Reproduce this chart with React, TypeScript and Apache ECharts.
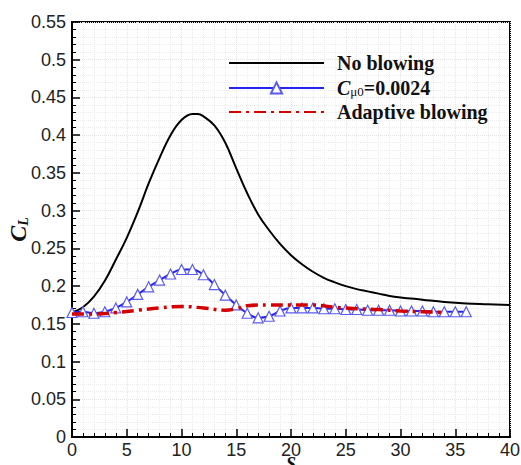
import React, { useEffect, useRef } from "react";
import * as echarts from "echarts";

const noBlowingX = [0, 1, 2, 3, 4, 5, 6, 7, 8, 9, 10, 11, 11.5, 12, 13, 14, 15, 16, 17, 18, 19, 20, 21, 22, 23, 24, 25, 26, 27, 28, 29, 30, 32, 34, 36, 38, 40];
const noBlowingY = [0.165, 0.172, 0.186, 0.207, 0.235, 0.264, 0.298, 0.336, 0.37, 0.4, 0.42, 0.428, 0.428, 0.425, 0.413, 0.39, 0.356, 0.323, 0.295, 0.274, 0.256, 0.241, 0.229, 0.219, 0.211, 0.205, 0.2, 0.196, 0.193, 0.19, 0.187, 0.185, 0.182, 0.179, 0.177, 0.176, 0.175];

const cmuX = [0, 1, 2, 3, 4, 5, 6, 7, 8, 9, 10, 11, 12, 13, 14, 15, 16, 17, 18, 19, 20, 21, 22, 23, 24, 25, 26, 27, 28, 29, 30, 31, 32, 33, 34, 35, 36];
const cmuY = [0.165, 0.166, 0.164, 0.166, 0.171, 0.179, 0.189, 0.199, 0.208, 0.216, 0.222, 0.222, 0.215, 0.202, 0.188, 0.175, 0.164, 0.158, 0.16, 0.167, 0.171, 0.171, 0.171, 0.17, 0.17, 0.169, 0.169, 0.168, 0.168, 0.168, 0.167, 0.167, 0.167, 0.166, 0.166, 0.166, 0.166];

const adaptiveX = [0, 2, 4, 6, 8, 10, 12, 14, 15, 16, 18, 20, 22, 24, 26, 28, 30, 32, 34];
const adaptiveY = [0.163, 0.163, 0.165, 0.168, 0.171, 0.173, 0.171, 0.168, 0.17, 0.174, 0.175, 0.175, 0.175, 0.172, 0.17, 0.169, 0.167, 0.166, 0.165];

const seriesNames = ["No blowing", "Cμ0=0.0024", "Adaptive blowing"];

const zip = (xs: number[], ys: number[]) => xs.map((x, i) => [x, ys[i]]);

export default function App() {
  const ref = useRef<HTMLDivElement>(null);
  useEffect(() => {
    if (!ref.current) return;
    const chart = echarts.init(ref.current, null, { renderer: "svg" });
    const serif = "Liberation Serif";
    const sans = "Liberation Sans";
    chart.setOption({
      animation: false,
      backgroundColor: "#ffffff",
      grid: {
        left: 72,
        right: 11,
        top: 22,
        bottom: 28,
        containLabel: false,
        outerBoundsMode: "none",
        show: true,
        borderColor: "#000",
        borderWidth: 2,
        backgroundColor: "transparent",
      },
      legend: {
        show: true,
        orient: "vertical",
        left: 223,
        top: 48,
        itemWidth: 95,
        itemHeight: 14,
        itemGap: 4,
        data: [
          { name: seriesNames[0], itemStyle: { opacity: 0 } },
          { name: seriesNames[1] },
          { name: seriesNames[2], itemStyle: { opacity: 0 } },
        ],
        formatter: (name: string) =>
          name === "Cμ0=0.0024" ? "{i|C}{s|μ0}{b|=0.0024}" : "{b|" + name + "}",
        textStyle: {
          padding: [0, 0, 0, 8],
          rich: {
            b: { fontFamily: serif, fontWeight: "bold", fontSize: 20, color: "#111", lineHeight: 20, verticalAlign: "middle" },
            i: { fontFamily: serif, fontWeight: "bold", fontStyle: "italic", fontSize: 20, color: "#111", lineHeight: 20, verticalAlign: "middle" },
            s: { fontFamily: serif, fontSize: 13, color: "#111", lineHeight: 14, verticalAlign: "bottom", padding: [8, 0, 0, 0] },
          },
        },
      },
      xAxis: {
        type: "value",
        min: 0,
        max: 40,
        interval: 5,
        name: "S",
        nameLocation: "middle",
        nameGap: 18,
        nameMoveOverlap: false,
        nameTextStyle: { fontFamily: serif, fontWeight: "bold", fontStyle: "italic", fontSize: 18, color: "#111" },
        axisLine: { show: true, onZero: false, lineStyle: { color: "#000", width: 2 } },
        axisTick: { show: true, inside: true, length: 8, lineStyle: { color: "#000", width: 1.5 } },
        minorTick: { show: true, splitNumber: 5, length: 4, lineStyle: { color: "#000", width: 1 } },
        axisLabel: { fontFamily: sans, fontSize: 18, color: "#222", margin: 4 },
        splitLine: { show: true, lineStyle: { color: "#e4e4e4", type: "dotted", width: 1 } },
        minorSplitLine: { show: true, lineStyle: { color: "#ececec", type: "dotted", width: 1 } },
      },
      yAxis: {
        type: "value",
        min: 0,
        max: 0.55,
        interval: 0.05,
        name: "{c|C}{l|L}",
        nameLocation: "middle",
        nameGap: 42,
        nameMoveOverlap: false,
        nameTextStyle: {
          rich: {
            c: { fontFamily: serif, fontWeight: "bold", fontStyle: "italic", fontSize: 24, color: "#111", lineHeight: 24 },
            l: { fontFamily: serif, fontWeight: "bold", fontStyle: "italic", fontSize: 14, color: "#111", lineHeight: 24, verticalAlign: "bottom", padding: [12, 0, 0, 0] },
          },
        },
        axisLine: { show: true, onZero: false, lineStyle: { color: "#000", width: 2 } },
        axisTick: { show: true, inside: true, length: 8, lineStyle: { color: "#000", width: 1.5 } },
        minorTick: { show: true, splitNumber: 5, length: 4, lineStyle: { color: "#000", width: 1 } },
        axisLabel: { fontFamily: sans, fontSize: 18, color: "#222", margin: 6 },
        splitLine: { show: true, lineStyle: { color: "#e4e4e4", type: "dotted", width: 1 } },
        minorSplitLine: { show: true, lineStyle: { color: "#ececec", type: "dotted", width: 1 } },
      },
      series: [
        {
          name: seriesNames[0],
          type: "line",
          data: zip(noBlowingX, noBlowingY),
          smooth: 0.4,
          showSymbol: false,
          symbol: "none",
          lineStyle: { color: "#000", width: 2 },
          itemStyle: { color: "#000" },
          z: 3,
        },
        {
          name: seriesNames[1],
          type: "line",
          data: zip(cmuX, cmuY),
          smooth: 0.4,
          symbol: "triangle",
          symbolSize: 10,
          showSymbol: true,
          lineStyle: { color: "#2424f2", width: 2 },
          itemStyle: { color: "#ffffff", borderColor: "#5a5aee", borderWidth: 1.2 },
          z: 4,
        },
        {
          name: seriesNames[2],
          type: "line",
          data: zip(adaptiveX, adaptiveY),
          smooth: 0.4,
          symbol: "none",
          showSymbol: false,
          lineStyle: { color: "#d40000", width: 3.5, type: [12, 5, 3, 5] },
          itemStyle: { color: "#d40000" },
          z: 5,
        },
      ],
    });
    return () => chart.dispose();
  }, []);
  return <div ref={ref} style={{ position: "fixed", left: 0, top: 0, width: 521, height: 465 }} />;
}
